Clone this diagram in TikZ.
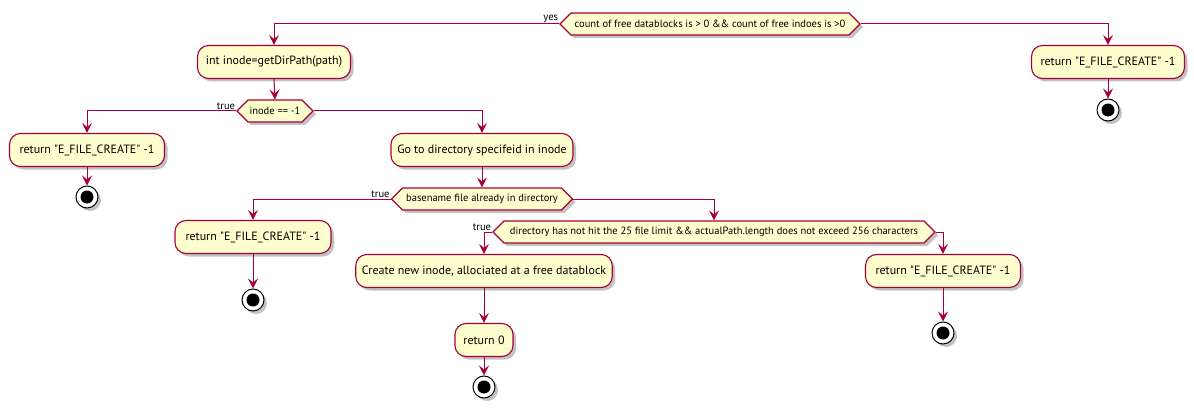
\documentclass[tikz,border=0pt]{standalone}
\usepackage{fontspec}
\setmainfont{PT Sans}
\usetikzlibrary{arrows.meta,shapes.symbols,shadows}
\definecolor{pborder}{HTML}{A80036}
\definecolor{pfill}{HTML}{FEFECE}
\newcommand{\qq}{\textquotedbl}
\begin{document}
\begin{tikzpicture}[x=1pt,y=-1pt,
 shd/.style={drop shadow={shadow xshift=3pt,shadow yshift=-3pt,opacity=0.4,fill=black!60}},
 act/.style={draw=pborder, fill=pfill, line width=1.1pt, rounded corners=11pt, minimum height=33pt, inner xsep=6pt, font=\fontsize{12}{14}\selectfont, shd},
 dec/.style={signal, signal to=west and east, signal pointer angle=90, draw=pborder, fill=pfill, line width=1.1pt, minimum height=22pt, inner xsep=1pt, inner ysep=0pt, font=\fontsize{10.5}{12}\selectfont, shd},
 arr/.style={draw=pborder, line width=1pt, -{Stealth[length=10pt,width=10pt,inset=4pt]}},
 stopn/.style={circle, draw=black, fill=white, line width=1pt, minimum size=22pt, inner sep=0pt, shd, path picture={\fill[black] (path picture bounding box.center) circle (6.5pt);}},
 lbl/.style={font=\fontsize{10.5}{12}\selectfont, anchor=south east, inner sep=1pt}
]
\useasboundingbox (0,0) rectangle (1194,409);
% nodes
\node[dec, minimum width=300pt] (d1) at (710,24) {count of free datablocks is > 0 \&\& count of free indoes is >0};
\node[act, minimum width=153pt] (btr) at (1108,62) {return \qq E\_FILE\_CREATE\qq{} -1};
\node[stopn] (str) at (1108,110) {};
\node[act, minimum width=153pt] (b1) at (274,62) {int inode=getDirPath(path)};
\node[dec, minimum width=76pt] (d2) at (275,111) {inode == -1};
\node[act, minimum width=155pt] (bL) at (87,150) {return \qq E\_FILE\_CREATE\qq{} -1};
\node[stopn] (sL) at (87,197) {};
\node[act, minimum width=182pt] (bGo) at (482,150) {Go to directory specifeid in inode};
\node[dec, minimum width=181pt] (d3) at (482,199) {basename file already in directory};
\node[act, minimum width=156pt] (bR2) at (253,237) {return \qq E\_FILE\_CREATE\qq{} -1};
\node[stopn] (sR2) at (253,300) {};
\node[dec, minimum width=442pt] (d4) at (714,232) {directory has not hit the 25 file limit \&\& actualPath.length does not exceed 256 characters};
\node[act, minimum width=252pt] (bC) at (484,271) {Create new inode, allociated at a free datablock};
\node[act, minimum width=58pt] (b0) at (484,340) {return 0};
\node[stopn] (s0) at (484,387) {};
\node[act, minimum width=155pt] (bR3) at (943,271) {return \qq E\_FILE\_CREATE\qq{} -1};
\node[stopn] (sR3) at (943,333) {};
% labels
\node[lbl] (l1) at (d1.west) {yes};
\node[lbl] (l2) at (d2.west) {true};
\node[lbl] (l3) at (d3.west) {true};
\node[lbl] (l4) at (d4.west) {true};
% connectors
\draw[arr] (d1.west) -| (b1.north);
\draw[arr] (d1.east) -| (btr.north);
\draw[arr] (btr.south) -- (str.north);
\draw[arr] (b1.south) -- (d2.north);
\draw[arr] (d2.west) -| (bL.north);
\draw[arr] (bL.south) -- (sL.north);
\draw[arr] (d2.east) -| (bGo.north);
\draw[arr] (bGo.south) -- (d3.north);
\draw[arr] (d3.west) -| (bR2.north);
\draw[arr] (bR2.south) -- (sR2.north);
\draw[arr] (d3.east) -| (d4.north);
\draw[arr] (d4.west) -| (bC.north);
\draw[arr] (bC.south) -- (b0.north);
\draw[arr] (b0.south) -- (s0.north);
\draw[arr] (d4.east) -| (bR3.north);
\draw[arr] (bR3.south) -- (sR3.north);
\end{tikzpicture}
\end{document}
